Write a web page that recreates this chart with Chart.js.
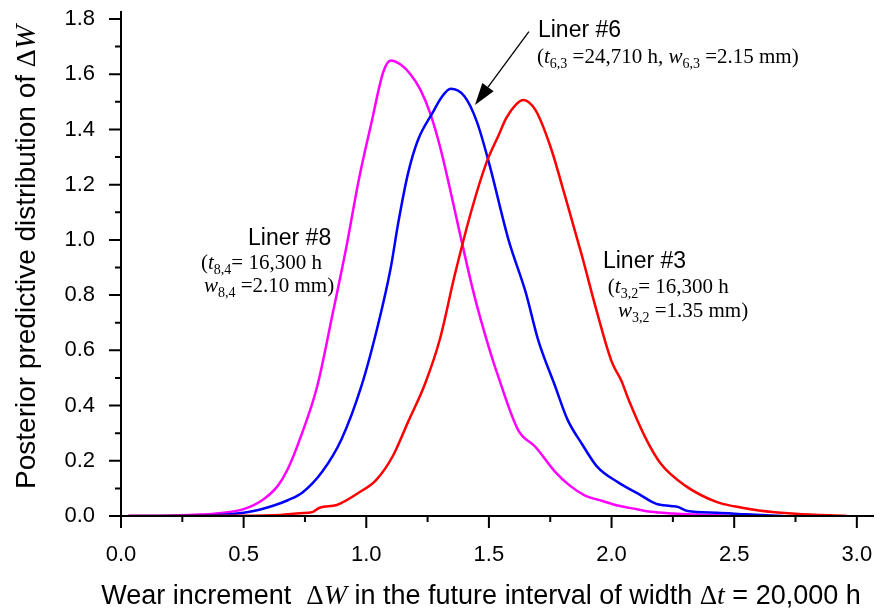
<!DOCTYPE html>
<html>
<head>
<meta charset="utf-8">
<script src="https://cdn.jsdelivr.net/npm/chart.js@4.4.1/dist/chart.umd.min.js"></script>
<style>
  body { margin: 0; background: #fff; }
  #wearChart { display: block; }
</style>
</head>
<body>
<canvas id="wearChart" width="880" height="616"></canvas>
<script>
// Liner #8 (magenta)
const liner8X = [0.03, 0.2, 0.32, 0.40, 0.50, 0.58, 0.64, 0.68, 0.73, 0.80, 0.86, 0.92, 0.97, 1.02, 1.07, 1.10, 1.14, 1.18, 1.22, 1.26, 1.30, 1.34, 1.38, 1.44, 1.50, 1.54, 1.62, 1.69, 1.77, 1.83, 1.89, 1.96, 2.03, 2.10, 2.16, 2.25, 2.35, 2.45, 2.55]
const liner8Y = [0, 0.001, 0.005, 0.01, 0.025, 0.06, 0.11, 0.17, 0.28, 0.47, 0.72, 0.98, 1.22, 1.42, 1.61, 1.65, 1.635, 1.60, 1.545, 1.46, 1.34, 1.19, 1.03, 0.80, 0.61, 0.50, 0.31, 0.25, 0.16, 0.11, 0.075, 0.055, 0.037, 0.025, 0.015, 0.009, 0.005, 0.002, 0]
// Liner #6 (blue)
const liner6X = [0.03, 0.3, 0.40, 0.50, 0.56, 0.62, 0.68, 0.74, 0.82, 0.90, 0.98, 1.05, 1.10, 1.13, 1.17, 1.21, 1.27, 1.31, 1.344, 1.40, 1.45, 1.50, 1.58, 1.65, 1.70, 1.77, 1.82, 1.88, 1.94, 2.03, 2.11, 2.18, 2.24, 2.27, 2.31, 2.43, 2.55, 2.70]
const liner6Y = [0, 0.001, 0.004, 0.012, 0.022, 0.037, 0.057, 0.085, 0.16, 0.28, 0.47, 0.70, 0.90, 1.06, 1.24, 1.36, 1.46, 1.52, 1.547, 1.52, 1.43, 1.28, 1.00, 0.81, 0.64, 0.47, 0.35, 0.26, 0.18, 0.12, 0.08, 0.045, 0.036, 0.033, 0.018, 0.012, 0.006, 0]
// Liner #3 (red)
const liner3X = [0.03, 0.5, 0.65, 0.73, 0.78, 0.81, 0.88, 0.97, 1.04, 1.11, 1.17, 1.24, 1.30, 1.36, 1.43, 1.49, 1.54, 1.57, 1.61, 1.64, 1.69, 1.75, 1.81, 1.88, 1.94, 2.00, 2.04, 2.07, 2.14, 2.20, 2.30, 2.43, 2.50, 2.60, 2.75, 2.96]
const liner3Y = [0, 0.001, 0.004, 0.010, 0.014, 0.03, 0.04, 0.085, 0.13, 0.22, 0.34, 0.48, 0.64, 0.87, 1.11, 1.28, 1.38, 1.44, 1.49, 1.507, 1.47, 1.34, 1.16, 0.94, 0.74, 0.56, 0.49, 0.42, 0.28, 0.19, 0.11, 0.05, 0.035, 0.02, 0.008, 0]

const xTicks = [0, 0.25, 0.5, 0.75, 1.0, 1.25, 1.5, 1.75, 2.0, 2.25, 2.5, 2.75, 3.0]
const yTicks = [0, 0.1, 0.2, 0.3, 0.4, 0.5, 0.6, 0.7, 0.8, 0.9, 1.0, 1.1, 1.2, 1.3, 1.4, 1.5, 1.6, 1.7, 1.8]

const SANS = '"Liberation Sans", Arial, sans-serif'
const SERIF = '"Liberation Serif", "Times New Roman", serif'

const pairs = (xs, ys) => xs.map((x, i) => ({ x: x, y: ys[i] }))

// rich text: list of [text, font, dy]
const drawRich = (ctx, x, y, segs, align) => {
    let total = 0
    segs.forEach(s => { ctx.font = s[1]; total += ctx.measureText(s[0]).width })
    let cx = align === 'center' ? x - total / 2 : x
    segs.forEach(s => {
        ctx.font = s[1]
        ctx.fillText(s[0], cx, y + (s[2] || 0))
        cx += ctx.measureText(s[0]).width
    })
}

const sub = '14px ' + SERIF
const ser = '21px ' + SERIF
const serI = 'italic 21px ' + SERIF
const lab = '23px ' + SANS

const notes = [
    { x: 1.70, y: 1.736, segs: [['Liner #6', lab]] },
    { x: 1.696, y: 1.641, segs: [['(', ser], ['t', serI], ['6,3', sub, 5], [' =24,710 h, ', ser], ['w', serI], ['6,3', sub, 5], [' =2.15 mm)', ser]] },
    { x: 0.518, y: 0.982, segs: [['Liner #8', lab]] },
    { x: 0.326, y: 0.895, segs: [['(', ser], ['t', serI], ['8,4', sub, 5], ['= 16,300 h', ser]] },
    { x: 0.338, y: 0.812, segs: [['w', serI], ['8,4', sub, 5], [' =2.10 mm)', ser]] },
    { x: 1.965, y: 0.899, segs: [['Liner #3', lab]] },
    { x: 1.985, y: 0.808, segs: [['(', ser], ['t', serI], ['3,2', sub, 5], ['= 16,300 h', ser]] },
    { x: 2.026, y: 0.721, segs: [['w', serI], ['3,2', sub, 5], [' =1.35 mm)', ser]] }
]
const arrowFrom = { x: 1.663, y: 1.754 }
const arrowTo = { x: 1.443, y: 1.489 }

const axesPlugin = {
    id: 'axesPlugin',
    afterDraw(chart) {
        const { ctx, chartArea: a, scales } = chart
        const xs = scales.x, ys = scales.y
        ctx.save()
        ctx.strokeStyle = '#000'
        ctx.lineWidth = 2
        ctx.beginPath()
        ctx.moveTo(a.left, a.top); ctx.lineTo(a.left, a.bottom)
        ctx.moveTo(a.left, a.bottom); ctx.lineTo(a.right, a.bottom)
        xTicks.forEach(v => {
            const px = xs.getPixelForValue(v)
            const len = Math.round(v * 2) === v * 2 ? 12 : 6
            ctx.moveTo(px, a.bottom); ctx.lineTo(px, a.bottom + len)
        })
        yTicks.forEach(v => {
            const py = ys.getPixelForValue(v)
            const len = Math.round(v * 10) % 2 === 0 ? 12 : 6
            ctx.moveTo(a.left, py); ctx.lineTo(a.left - len, py)
        })
        ctx.stroke()

        // axis titles
        ctx.fillStyle = '#000'
        ctx.textBaseline = 'alphabetic'
        drawRich(ctx, 481, 604, [
            ['Wear increment  ', '27px ' + SANS], ['Δ', '27px ' + SERIF], ['W', 'italic 28px ' + SERIF],
            [' in the future interval of width ', '27px ' + SANS], ['Δ', '27px ' + SERIF], ['t', 'italic 28px ' + SERIF],
            [' = ', '27px ' + SANS], ['20,000 h', '27px ' + SANS]
        ], 'center')
        ctx.translate(35, 257)
        ctx.rotate(-Math.PI / 2)
        drawRich(ctx, 0, 0, [
            ['Posterior predictive distribution of ', '28px ' + SANS], ['Δ', '28px ' + SERIF], ['W', 'italic 29px ' + SERIF]
        ], 'center')
        ctx.restore()
    }
}

const notesPlugin = {
    id: 'notesPlugin',
    afterDraw(chart) {
        const { ctx, scales } = chart
        const xs = scales.x, ys = scales.y
        ctx.save()
        ctx.fillStyle = '#000'
        ctx.textBaseline = 'alphabetic'
        notes.forEach(n => drawRich(ctx, xs.getPixelForValue(n.x), ys.getPixelForValue(n.y), n.segs))

        const x0 = xs.getPixelForValue(arrowFrom.x), y0 = ys.getPixelForValue(arrowFrom.y)
        const x1 = xs.getPixelForValue(arrowTo.x), y1 = ys.getPixelForValue(arrowTo.y)
        const ang = Math.atan2(y1 - y0, x1 - x0)
        const head = 22, half = 7
        const bx = x1 - head * Math.cos(ang), by = y1 - head * Math.sin(ang)
        ctx.strokeStyle = '#000'
        ctx.lineWidth = 1.3
        ctx.beginPath()
        ctx.moveTo(x0, y0); ctx.lineTo(bx, by)
        ctx.stroke()
        ctx.beginPath()
        ctx.moveTo(x1, y1)
        ctx.lineTo(bx + half * Math.sin(ang), by - half * Math.cos(ang))
        ctx.lineTo(bx - half * Math.sin(ang), by + half * Math.cos(ang))
        ctx.closePath()
        ctx.fill()
        ctx.restore()
    }
}

const lineSet = (label, xs, ys, color) => ({
    label: label,
    data: pairs(xs, ys),
    borderColor: color,
    borderWidth: 2.5,
    pointRadius: 0,
    fill: false,
    cubicInterpolationMode: 'monotone'
})

const config = {
    type: 'line',
    data: {
        datasets: [
            lineSet('Liner #3', liner3X, liner3Y, '#ff0000'),
            lineSet('Liner #6', liner6X, liner6Y, '#0000ff'),
            lineSet('Liner #8', liner8X, liner8Y, '#ff00ff')
        ]
    },
    options: {
        responsive: false,
        animation: false,
        layout: { padding: { left: 0, right: 6, top: 11, bottom: 0 } },
        plugins: {
            legend: { display: false },
            tooltip: { enabled: false }
        },
        scales: {
            x: {
                type: 'linear',
                min: 0,
                max: 3.07,
                afterBuildTicks: (scale) => { scale.ticks = xTicks.map(v => ({ value: v })) },
                afterFit: (scale) => {
                    scale.height = 100
                    scale.paddingLeft = 0
                    scale.paddingRight = 0
                },
                grid: { display: false, drawTicks: true, tickLength: 12 },
                border: { display: false },
                ticks: {
                    autoSkip: false,
                    maxRotation: 0,
                    padding: 14,
                    color: '#000',
                    font: { family: SANS, size: 22 },
                    callback: (value) => Math.round(value * 2) === value * 2 ? value.toFixed(1) : ''
                }
            },
            y: {
                min: 0,
                max: 1.829,
                afterBuildTicks: (scale) => { scale.ticks = yTicks.map(v => ({ value: v })) },
                afterFit: (scale) => {
                    scale.width = 121
                    scale.paddingTop = 0
                    scale.paddingBottom = 0
                },
                grid: { display: false, drawTicks: true, tickLength: 12 },
                border: { display: false },
                ticks: {
                    autoSkip: false,
                    padding: 14,
                    color: '#000',
                    font: { family: SANS, size: 22 },
                    callback: (value) => {
                        const k = Math.round(value * 10)
                        return k % 2 === 0 ? (k / 10).toFixed(1) : ''
                    }
                }
            }
        }
    },
    plugins: [axesPlugin, notesPlugin]
}

const ctx = document.getElementById('wearChart').getContext('2d')
const wearChart = new Chart(ctx, config)
</script>
</body>
</html>
